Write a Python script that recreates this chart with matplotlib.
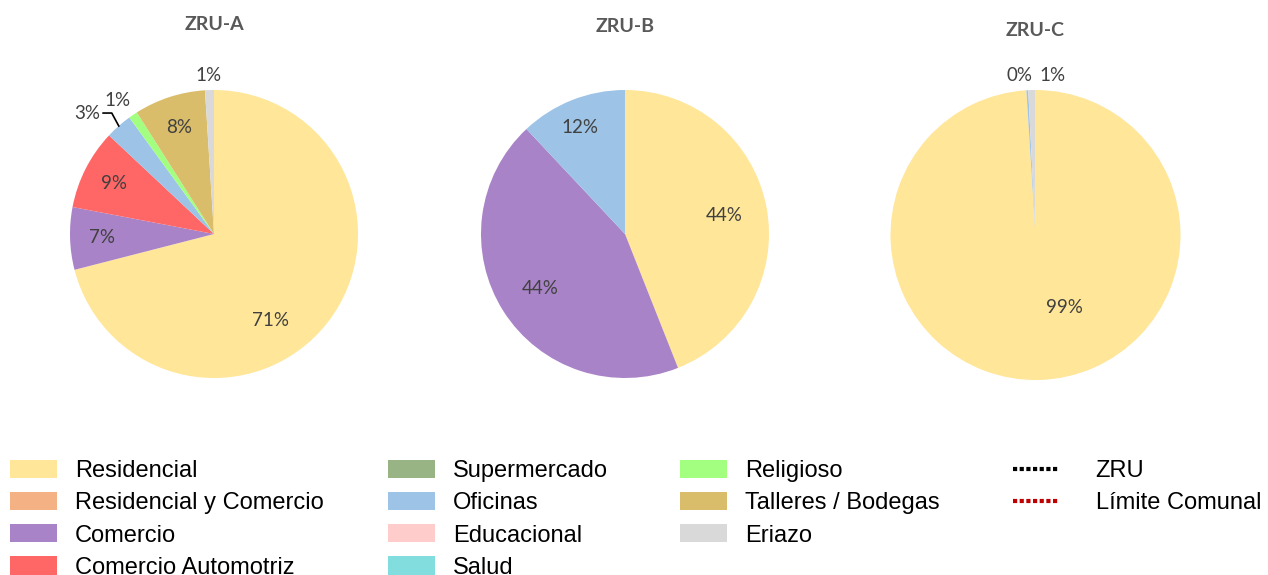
import matplotlib
matplotlib.use("Agg")
import matplotlib.pyplot as plt
import numpy as np
from matplotlib.patches import Patch
from matplotlib.lines import Line2D

# land use categories (legend order)
categories = ["Residencial", "Residencial y Comercio", "Comercio", "Comercio Automotriz",
              "Supermercado", "Oficinas", "Educacional", "Salud",
              "Religioso", "Talleres / Bodegas", "Eriazo"]
colors = ["#FFE699", "#F4B183", "#A983C7", "#FF6666",
          "#98B384", "#9DC3E6", "#FFCCCC", "#82DEDE",
          "#A3FF80", "#D9BD6A", "#D9D9D9"]

# share of surface per zone (%)
zru_a = [71, 0, 7, 9, 0, 3, 0, 0, 1, 8, 1]
zru_b = [44, 0, 44, 0, 0, 12, 0, 0, 0, 0, 0]
zru_c = [99, 0, 0, 0, 0, 0.2, 0, 0, 0, 0, 0.8]
zru_c_text = {5: "0%", 10: "1%"}

titles = ["ZRU-A", "ZRU-B", "ZRU-C"]

W, H = 1268, 575
fig = plt.figure(figsize=(W / 100, H / 100), dpi=100)

pct_font = dict(family=["Lato", "DejaVu Sans"], fontsize=13.5, color="#404040")


def add_pie(cx, cy, r, values, title, title_y, pctdist, moved, text_over=None):
    ax = fig.add_axes([(cx - r) / W, (H - cy - r) / H, 2 * r / W, 2 * r / H])
    wedges, _ = ax.pie(values, colors=colors, startangle=90, counterclock=False,
                       wedgeprops=dict(linewidth=0))
    ax.set_xlim(-1, 1)
    ax.set_ylim(-1, 1)
    ax.set_aspect("equal")
    ax.axis("off")
    total = sum(values)
    for i, (w, v) in enumerate(zip(wedges, values)):
        if v == 0:
            continue
        txt = f"{round(v / total * 100):.0f}%"
        if text_over and i in text_over:
            txt = text_over[i]
        if i in moved:
            x, y = moved[i]
        else:
            ang = np.deg2rad((w.theta1 + w.theta2) / 2)
            x, y = pctdist * np.cos(ang), pctdist * np.sin(ang)
        ax.text(x, y, txt, ha="center", va="center", **pct_font)
    fig.text(cx / W, 1 - title_y / H, title, ha="center", va="center",
             family=["Lato", "DejaVu Sans"], fontweight="bold", fontsize=14, color="#595959")
    return ax, wedges


ax_a, w_a = add_pie(214, 234, 144, zru_a, titles[0], 25, 0.78,
                    {0: (0.39, -0.6), 5: (-0.88, 0.84), 8: (-0.67, 0.93), 10: (-0.04, 1.10)})
# leader line for the small "Oficinas" slice
ang = np.deg2rad((w_a[5].theta1 + w_a[5].theta2) / 2)
ax_a.plot([-0.77, -0.71, np.cos(ang)], [0.84, 0.84, np.sin(ang)], color="black",
          lw=1.2, clip_on=False)

add_pie(625, 234, 144, zru_b, titles[1], 27, 0.7, {5: (-0.31, 0.74)})
add_pie(1035.5, 235, 145, zru_c, titles[2], 31, 0.7,
        {0: (0.2, -0.5), 5: (-0.107, 1.1), 10: (0.114, 1.1)}, zru_c_text)

# legend in four blocks
leg_font = dict(family=["Liberation Sans", "DejaVu Sans"], size=17)
legend_top = 1 - 460 / H
groups = [(10, range(0, 4)), (388, range(4, 8)), (680, range(8, 11))]
for x0, idx in groups:
    handles = [Patch(facecolor=colors[i], edgecolor="none", label=categories[i]) for i in idx]
    fig.legend(handles=handles, loc="upper left", bbox_to_anchor=(x0 / W, legend_top),
               frameon=False, prop=leg_font, handlelength=2.0, handleheight=0.8,
               handletextpad=0.75, labelspacing=0.42, borderpad=0, borderaxespad=0)

line_handles = [Line2D([], [], color="black", ls=(0, (1, 0.6)), lw=3, label="ZRU"),
                Line2D([], [], color="#C00000", ls=(0, (1, 0.6)), lw=3, label="Límite Comunal")]
fig.legend(handles=line_handles, loc="upper left", bbox_to_anchor=(1013 / W, legend_top),
           frameon=False, prop=leg_font, handlelength=1.9, handletextpad=1.6,
           labelspacing=0.42, borderpad=0, borderaxespad=0)

fig.savefig("out.png", dpi=100)
